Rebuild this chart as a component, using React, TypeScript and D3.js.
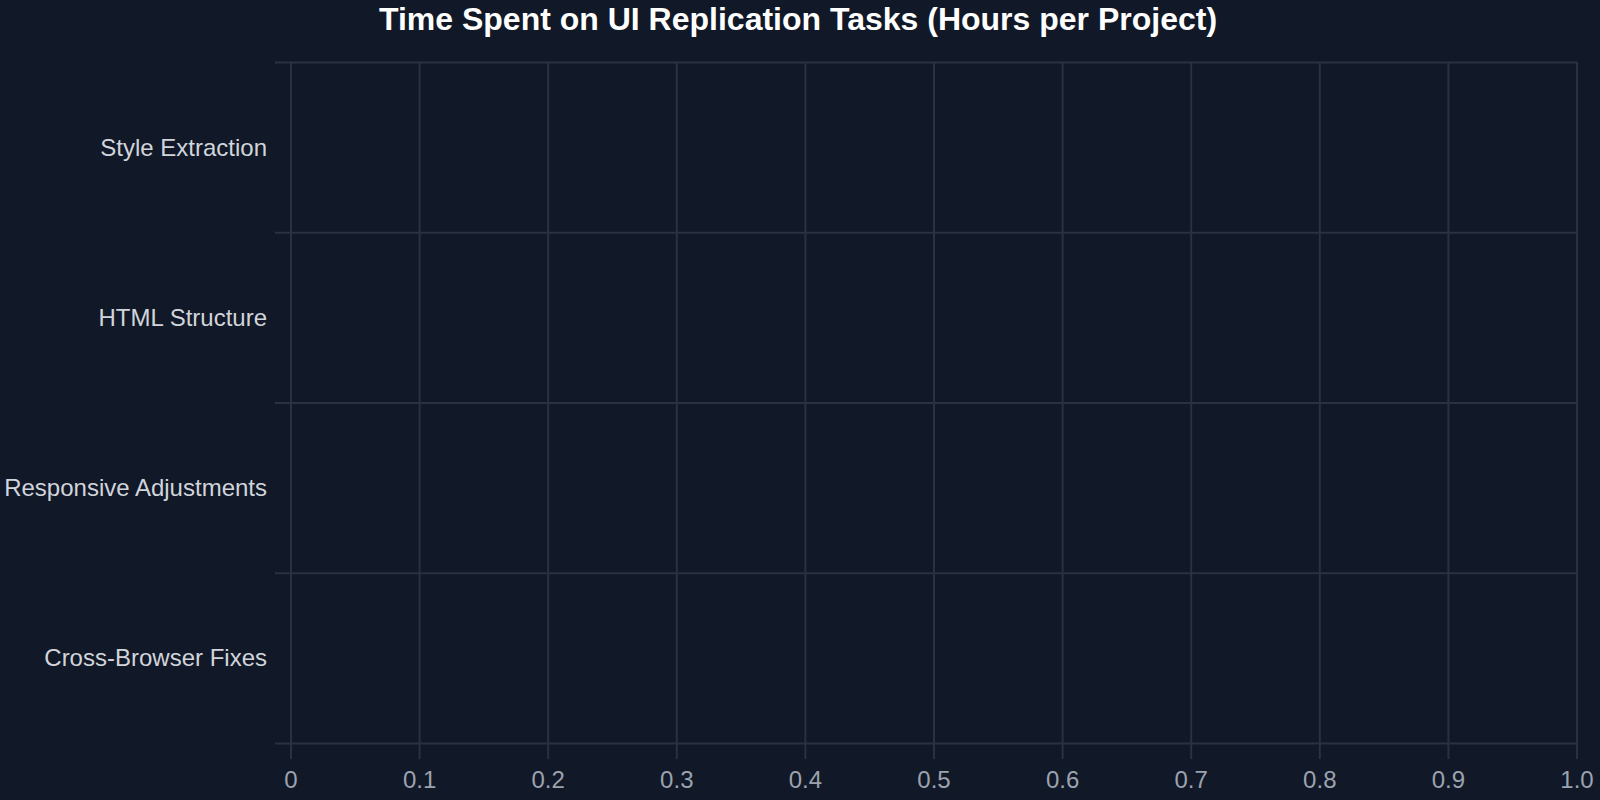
import React, { useRef, useEffect } from 'react';
import * as d3 from 'd3';

const tasks = ['Style Extraction', 'HTML Structure', 'Responsive Adjustments', 'Cross-Browser Fixes'];
// no hours recorded in the reference, so bars have zero length
const hours = [0, 0, 0, 0];
const xTicks = [0, 0.1, 0.2, 0.3, 0.4, 0.5, 0.6, 0.7, 0.8, 0.9, 1.0];

const WIDTH = 1600;
const HEIGHT = 800;

const App: React.FC = () => {
  const svgRef = useRef<SVGSVGElement | null>(null);

  useEffect(() => {
    if (!svgRef.current) return;
    const margin = { top: 62, right: 23, bottom: 57, left: 291 };
    const innerWidth = WIDTH - margin.left - margin.right;
    const innerHeight = HEIGHT - margin.top - margin.bottom;
    const gridColor = '#2a3140';

    const svg = d3.select(svgRef.current);
    svg.selectAll('*').remove();

    svg.append('rect').attr('width', WIDTH).attr('height', HEIGHT).attr('fill', '#111827');

    svg
      .append('text')
      .attr('x', 798)
      .attr('y', 30)
      .attr('text-anchor', 'middle')
      .attr('font-family', '"Liberation Sans", Arial, sans-serif')
      .attr('font-weight', 'bold')
      .attr('font-size', 32)
      .attr('fill', '#ffffff')
      .text('Time Spent on UI Replication Tasks (Hours per Project)');

    const g = svg.append('g').attr('transform', `translate(${margin.left},${margin.top})`);

    const x = d3.scaleLinear().domain([0, d3.max(hours) || 1]).range([0, innerWidth]);
    const y = d3.scaleBand().domain(tasks).range([0, innerHeight]);

    // category band boundaries
    const bounds = tasks.map(t => y(t)!).concat([innerHeight]);
    g.append('g')
      .selectAll('line')
      .data(bounds)
      .join('line')
      .attr('x1', -16)
      .attr('x2', innerWidth)
      .attr('y1', d => d + 0.5)
      .attr('y2', d => d + 0.5)
      .attr('stroke', gridColor)
      .attr('stroke-width', 2);

    // vertical grid + ticks
    g.append('g')
      .selectAll('line')
      .data(xTicks)
      .join('line')
      .attr('x1', d => x(d))
      .attr('x2', d => x(d))
      .attr('y1', 0)
      .attr('y2', innerHeight + 16)
      .attr('stroke', gridColor)
      .attr('stroke-width', 2);

    g.append('g')
      .selectAll('text')
      .data(xTicks)
      .join('text')
      .attr('x', d => x(d))
      .attr('y', innerHeight + 45)
      .attr('text-anchor', 'middle')
      .attr('font-family', '"Liberation Sans", Arial, sans-serif')
      .attr('font-size', 24)
      .attr('fill', '#9ca3af')
      .text(d => (d === 0 ? '0' : d3.format('.1f')(d)));

    g.append('g')
      .selectAll('text')
      .data(tasks)
      .join('text')
      .attr('x', -24)
      .attr('y', d => y(d)! + y.bandwidth() / 2)
      .attr('dy', '0.35em')
      .attr('text-anchor', 'end')
      .attr('font-family', '"Liberation Sans", Arial, sans-serif')
      .attr('font-size', 24)
      .attr('fill', '#d1d5db')
      .text(d => d);

    g.append('g')
      .selectAll('rect')
      .data(hours)
      .join('rect')
      .attr('x', x(0))
      .attr('y', (_, i) => y(tasks[i])! + y.bandwidth() * 0.2)
      .attr('width', d => x(d) - x(0))
      .attr('height', y.bandwidth() * 0.6)
      .attr('fill', '#3b82f6');
  }, []);

  return (
    <div style={{ position: 'fixed', left: 0, top: 0, width: WIDTH, height: HEIGHT, overflow: 'hidden' }}>
      <svg ref={svgRef} width={WIDTH} height={HEIGHT} style={{ display: 'block' }} />
    </div>
  );
};

export default App;
